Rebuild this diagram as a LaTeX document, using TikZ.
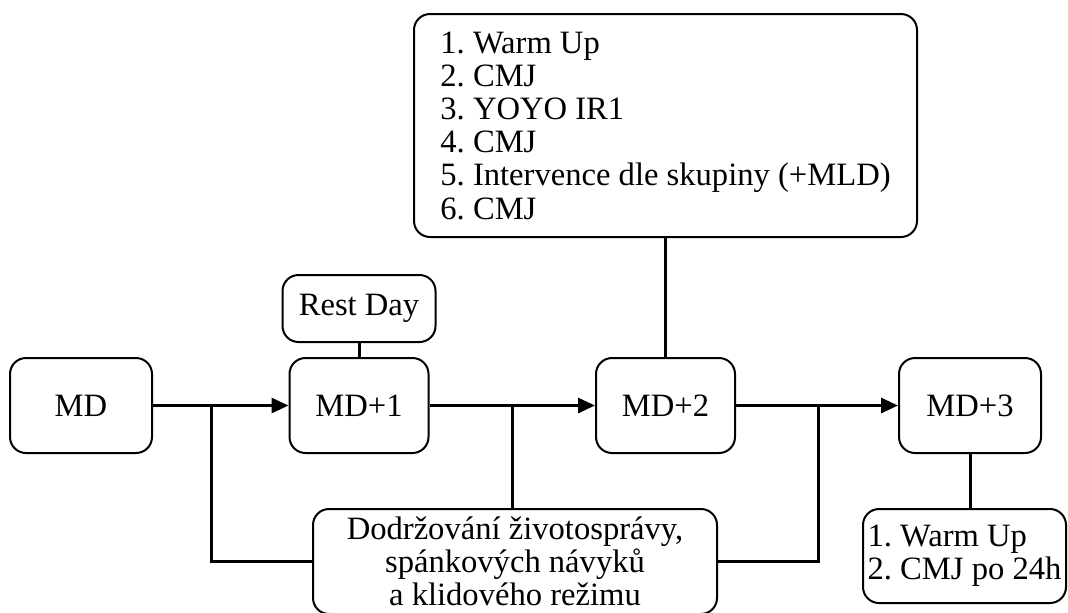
\documentclass[tikz,border=0pt]{standalone}
\usepackage{fontspec}
\setmainfont{Liberation Serif}
\usetikzlibrary{arrows.meta}
\frenchspacing

\begin{document}
\begin{tikzpicture}[x=0.5pt, y=-0.5pt, font=\fontsize{16.3}{16.6}\selectfont,
daybox/.style={draw, line width=1pt, rounded corners=8pt, inner sep=2pt,
  minimum width=69.5pt, minimum height=47.5pt},
notebox/.style={draw, line width=1pt, rounded corners=8pt, inner sep=1pt},
link/.style={line width=1.5pt},
flow/.style={link, -{Triangle[length=8.5pt, width=7.5pt]}}]

\useasboundingbox (0,0) rectangle (1068,612);

% match days
\node[daybox, minimum width=71pt] (md) at (81,405.5) {MD};
\node[daybox] (md1) at (359,405.5) {MD+1};
\node[daybox] (md2) at (665.5,405.5) {MD+2};
\node[daybox, minimum width=71pt] (md3) at (970,405.5) {MD+3};

% notes
\node[notebox, minimum width=76.5pt, minimum height=33.5pt] (rest) at (359,308.5) {Rest Day};
\node[notebox, align=left, minimum width=251.5pt, minimum height=111.5pt]
(plan) at (665.5,125.5) {1. Warm Up\\2. CMJ\\3. YOYO IR1\\4. CMJ\\5. Intervence dle skupiny (+MLD)\\6. CMJ};
\node[notebox, align=center, minimum width=202pt, minimum height=52.5pt]
(rezim) at (515,561.5) {Dodržování životosprávy,\\spánkových návyků\\a klidového režimu};
\node[notebox, align=left, minimum width=101.5pt, minimum height=47pt]
(test) at (964.5,556) {1. Warm Up\\2. CMJ po 24h};

% branch points
\coordinate (b1) at (211,405.5);
\coordinate (b2) at (512,405.5);
\coordinate (b3) at (818,405.5);

% arrows
\draw[flow] (md) -- (md1);
\draw[flow] (md1) -- (md2);
\draw[flow] (md2) -- (md3);

% links
\begin{scope}[link]
\draw (b1) |- (rezim.west);
\draw (b2) -- (b2 |- rezim.north);
\draw (b3) |- (rezim.east);
\draw (rest) -- (md1);
\draw (plan) -- (md2);
\draw (md3) -- (md3 |- test.north);
\end{scope}

\end{tikzpicture}
\end{document}
